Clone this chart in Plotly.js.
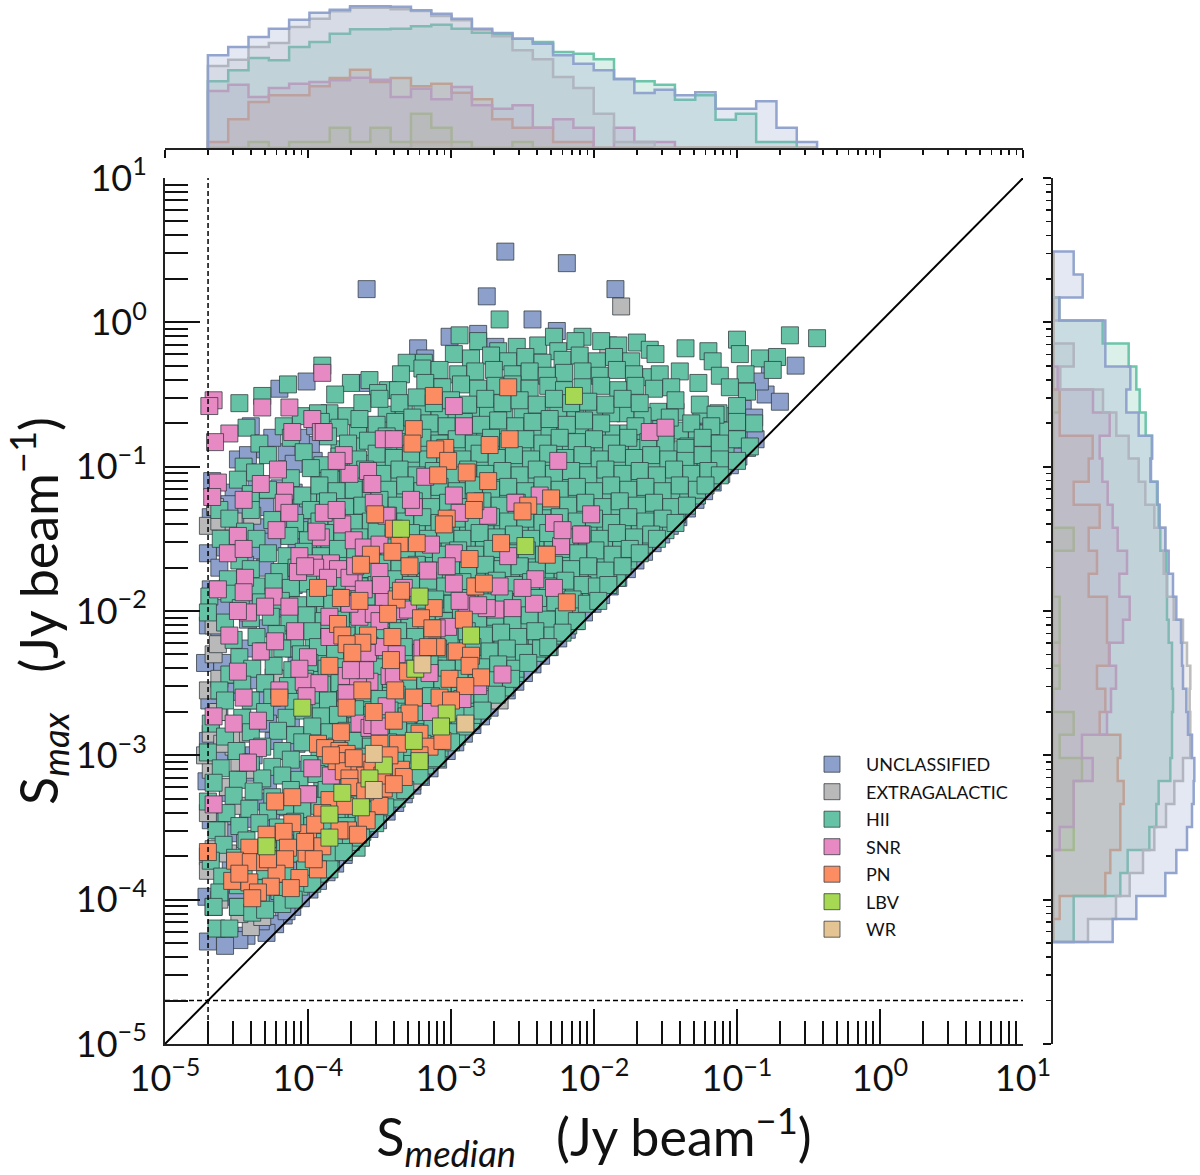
<!DOCTYPE html>
<html><head><meta charset="utf-8">
<script src="https://cdn.plot.ly/plotly-3.0.1.min.js"></script>
<style>html,body{margin:0;padding:0;background:#fff}</style></head>
<body><div id="chart" style="width:1200px;height:1175px"></div>
<script>
const classNames=["UNCLASSIFIED","EXTRAGALACTIC","HII","SNR","PN","LBV","WR"];
const classColors=["#8da0cb","#b9b9b9","#66c2a5","#e78ac3","#fc8d62","#a6d854","#e5c494"];

const unclassifiedPts=[-262,49,-219,41,-359,23,-275,18,-185,23,-243,2,-59,-30,-77,-30,-226,-6,-301,-10,-281,-8,-269,-17,-323,-18,-318,-25,-420,-46,-401,-41,-358,-42,-449,-95,-96,-60,-80,-50,-84,-41,-88,-66,-106,-72,-120,-75,-70,-55,-90,-80,-114,-85,-135,-78,-160,-68,-200,-35,
-87,-81,-93,-87,-99,-93,-105,-99,-111,-105,-117,-111,-123,-117,-129,-123,-135,-129,-141,-135,-147,-141,-153,-147,-159,-153,-165,-159,-171,-165,-177,-171,-183,-177,-189,-183,-195,-189,-201,-195,-207,-201,-213,-207,-219,-213,-225,-219,-231,-225,-237,-231,-243,-237,-249,-243,-255,-249,-261,-255,-267,-261,-273,-267,-279,-273,-285,-279,-291,-285,-297,-291,-303,-297,-309,-303,-315,-309,-321,-315,-327,-321,-333,-327,-339,-333,-345,-339,-351,-345,-357,-351,-363,-357,-369,-363,-375,-369,-381,-375,-387,-381,-393,-387,-399,-393,-405,-399,-411,-405,-417,-411,-423,-417,-429,-423,
-415,-408,-433,-415,-443,-425,-448,-428,-458,-432,-470,-429,-471,-398,-470,-370,-468,-345,-471,-318,-470,-290,-469,-262,-472,-236,-470,-210,-468,-185,-470,-160,-468,-135,-467,-110,-450,-130,-445,-160,-420,-115,-415,-90,-430,-88,-398,-85,-385,-100,-370,-90,
-440,-72,-425,-80,-405,-80,-395,-72,-442,-92,-410,-98,-396,-96,-452,-118,-436,-112,-410,-118,-455,-126,-430,-128,-405,-128,-384,-118,-448,-140,-432,-142,-418,-138,-402,-142,-458,-156,-438,-158,-425,-152,-408,-156,-462,-170,-444,-168,-430,-170,-414,-168,-456,-184,-440,-190,-422,-186,-410,-182,-460,-198,-442,-206,-424,-200,-412,-196,-462,-214,-444,-226,-428,-212,-410,-226,-460,-236,-440,-248,-424,-246,-408,-238,-454,-256,-436,-262,-420,-268,-404,-258,-462,-270,-446,-282,-428,-278,-412,-276,-456,-292,-438,-300,-424,-290,-408,-292,-462,-302,-444,-312,-428,-318,-410,-310,-456,-326,-436,-332,-420,-336,-408,-330,-460,-346,-442,-344,-426,-346,-410,-342,-452,-354,-436,-366,-422,-362,-408,-358,-454,-376,-428,-384,-412,-380,-450,-398,-428,-398];

const extragalacticPts=[-181,11,-190,-16,-466,-405,-470,-380,-462,-400,-440,-419,-466,-365,-470,-340,-468,-310,-472,-300,-468,-285,-463,-270,-452,-294,-440,-310,-470,-255,-466,-230,-463,-223,-462,-247,-418,-247,-405,-240,-466,-210,-418,-210,-439,-134,-470,-141,-462,-138,-452,-138,-350,-130,-320,-107,-330,-94,-320,-124,-465,-128,-420,-370,-402,-376,-390,-368,-360,-345,-327,-318,-266,-262,-367,-361,
-452,-288,-460,-292,-442,-285,-448,-305,-456,-322,-446,-335,-462,-352,-444,-358,-456,-368,-420,-392,-448,-410,-432,-412,-410,-396];

const hiiFillPts=[-405,-65,-385,-63,-345,-64,-320,-62,-298,-65,-275,-62,-250,-64,-225,-62,-200,-64,-178,-63,-155,-62,-125,-64,-105,-65,
-365,-77,-345,-75,-322,-76,-300,-77,-278,-75,-255,-77,-232,-76,-210,-75,-188,-77,-165,-76,-140,-75,-120,-77,-100,-76,
-378,-88,-352,-87,-330,-88,-306,-87,-284,-89,-262,-88,-240,-87,-218,-89,-194,-88,-170,-87,-146,-88,-118,-89,
-390,-99,-362,-98,-338,-99,-314,-98,-290,-100,-266,-98,-242,-99,-218,-98,-194,-100,-170,-99,-146,-98,-122,-99,
-392,-110,-366,-110,-342,-109,-318,-111,-294,-110,-270,-109,-246,-111,-222,-110,-198,-109,-174,-111,-150,-110,-128,-109,
-400,-122,-374,-121,-350,-120,-326,-122,-302,-121,-278,-120,-254,-122,-230,-121,-206,-120,-182,-122,-158,-121,-136,-120,
-392,-132,-368,-133,-344,-131,-320,-133,-296,-132,-272,-131,-248,-133,-224,-132,-200,-131,-176,-133,-152,-132,
-406,-144,-384,-143,-360,-142,-336,-144,-312,-143,-288,-142,-264,-144,-240,-143,-216,-142,-192,-144,-168,-143,-150,-144,
-397,-154,-373,-155,-349,-153,-325,-155,-301,-154,-277,-153,-253,-155,-229,-154,-205,-153,-181,-155,-165,-154,
-402,-165,-384,-165,-360,-164,-336,-166,-312,-165,-288,-164,-264,-166,-240,-165,-216,-164,-192,-166,-176,-165,
-390,-177,-366,-176,-342,-175,-318,-177,-294,-176,-270,-175,-246,-177,-222,-176,-198,-175,-184,-177,
-394,-187,-370,-188,-346,-186,-322,-188,-298,-187,-274,-186,-250,-188,-226,-187,-204,-186,
-400,-199,-376,-198,-352,-197,-328,-199,-304,-198,-280,-197,-256,-199,-232,-198,-212,-197,
-392,-210,-368,-209,-344,-208,-320,-210,-296,-209,-272,-208,-248,-210,-226,-209,
-396,-221,-372,-220,-348,-219,-324,-221,-300,-220,-276,-219,-252,-221,-235,-220,
-390,-232,-366,-231,-342,-230,-318,-232,-294,-231,-270,-230,-246,-232,
-396,-243,-372,-242,-348,-241,-324,-243,-300,-242,-276,-241,-255,-243,
-390,-254,-366,-253,-342,-252,-318,-254,-294,-253,-268,-252,
-396,-265,-372,-264,-348,-263,-324,-265,-300,-264,-280,-263,
-390,-276,-366,-275,-342,-274,-318,-276,-294,-275,
-396,-287,-372,-286,-348,-285,-324,-287,-300,-286,
-390,-298,-366,-297,-342,-296,-316,-298,
-396,-309,-372,-308,-348,-307,-326,-309,
-390,-320,-366,-319,-342,-318,
-396,-331,-372,-330,-346,-329,
-390,-342,-366,-341,-351,-339,
-396,-353,-372,-352,
-390,-364,-372,-362,
-402,-374,-384,-374];

const hiiDensePts=[-393,-63,-373,-65,-333,-62,-308,-65,-286,-62,-263,-65,-238,-62,-213,-65,-188,-63,-166,-65,-143,-62,-113,-63,
-353,-74,-333,-77,-310,-74,-288,-75,-266,-77,-243,-74,-220,-77,-198,-75,-176,-77,-153,-74,-128,-77,-108,-75,
-366,-86,-340,-89,-318,-86,-294,-89,-272,-87,-250,-89,-228,-87,-206,-86,-182,-89,-158,-87,-134,-86,-108,-88,
-378,-97,-350,-100,-326,-97,-302,-100,-278,-97,-254,-100,-230,-97,-206,-100,-182,-97,-158,-100,-134,-97,-110,-100,
-380,-109,-354,-111,-330,-110,-306,-108,-282,-111,-258,-109,-234,-108,-210,-111,-186,-110,-162,-108,-138,-111,-118,-110,
-388,-120,-362,-122,-338,-121,-314,-119,-290,-122,-266,-121,-242,-119,-218,-122,-194,-121,-170,-119,-146,-122,-128,-120,
-380,-131,-356,-133,-332,-132,-308,-130,-284,-133,-260,-132,-236,-130,-212,-133,-188,-132,-164,-130,-142,-133,
-394,-142,-372,-144,-348,-143,-324,-141,-300,-144,-276,-143,-252,-141,-228,-144,-204,-143,-180,-141,-158,-144,
-385,-153,-361,-155,-337,-154,-313,-152,-289,-155,-265,-154,-241,-152,-217,-155,-193,-154,-172,-152,
-390,-164,-372,-166,-348,-165,-324,-163,-300,-166,-276,-165,-252,-163,-228,-166,-204,-165,-180,-163,
-378,-175,-354,-177,-330,-176,-306,-174,-282,-177,-258,-176,-234,-174,-210,-177,-190,-176,
-382,-186,-358,-188,-334,-187,-310,-185,-286,-188,-262,-187,-238,-185,-214,-188,
-388,-197,-364,-199,-340,-198,-316,-196,-292,-199,-268,-198,-244,-196,-222,-199,
-380,-208,-356,-210,-332,-209,-308,-207,-284,-210,-260,-209,-236,-207,-218,-210,
-384,-219,-360,-221,-336,-220,-312,-218,-288,-221,-264,-220,-240,-218,
-378,-230,-354,-232,-330,-231,-306,-229,-282,-232,-258,-231,-240,-229,
-384,-241,-360,-243,-336,-242,-312,-240,-288,-243,-264,-242,
-378,-252,-354,-254,-330,-253,-306,-251,-282,-254,-262,-253,
-384,-263,-360,-265,-336,-264,-312,-262,-288,-265,
-378,-274,-354,-276,-330,-275,-306,-273,-286,-276,
-384,-285,-360,-287,-336,-286,-312,-284,-296,-287,
-378,-296,-354,-298,-330,-297,
-384,-307,-360,-309,-336,-308,-318,-307,
-378,-318,-354,-320,-334,-319,
-384,-329,-360,-331,-338,-330,
-378,-340,-358,-342,
-384,-351,-362,-353,
-380,-362,-366,-364];

const hiiPts=[-266,2,-294,-9,-281,-13,-254,-17,-239,-16,-228,-10,-208,-10,-267,-20,-225,-20,-213,-13,-195,-13,-183,-16,-170,-14,-161,-19,-136,-18,-63,-9,-44,-11,-100,-12,-120,-20,
-298,-22,-286,-25,-272,-23,-260,-27,-248,-24,-236,-28,-222,-26,-210,-23,-198,-27,-186,-24,-174,-27,-157,-22,-117,-27,-98,-22,-84,-25,-72,-24,-319,-28,-331,-28,
-390,-30,-335,-36,-320,-32,-308,-33,-295,-36,-283,-34,-270,-33,-257,-36,-245,-34,-233,-37,-221,-35,-208,-34,-196,-37,-184,-33,-172,-36,-160,-38,-154,-36,-140,-34,-112,-37,-94,-36,-75,-33,
-414,-43,-357,-40,-344,-47,-337,-47,-318,-42,-306,-45,-293,-43,-281,-46,-269,-44,-257,-43,-245,-46,-232,-44,-221,-47,-208,-45,-195,-44,-183,-47,-171,-44,-158,-46,-146,-45,-127,-42,-105,-45,-93,-48,-370,-42,-351,-49,
-448,-56,-432,-51,-381,-50,-362,-56,-350,-53,-336,-56,-324,-52,-312,-56,-300,-54,-288,-57,-276,-53,-264,-56,-252,-54,-240,-57,-228,-53,-216,-56,-204,-55,-192,-57,-180,-53,-168,-56,-143,-54,-126,-57,-115,-64,-100,-58,
-443,-73,-417,-72,-391,-69,-378,-73,-364,-67,-352,-71,-339,-69,-327,-66,-315,-70,-303,-72,-291,-69,-279,-71,-267,-68,-255,-72,-243,-69,-231,-67,-219,-71,-207,-68,-195,-70,-171,-72,-147,-66,-132,-70,-118,-72,-100,-69,-88,-70,-150,-78,
-434,-84,-412,-80,-386,-79,-372,-84,-358,-82,-345,-79,-332,-83,-320,-80,-308,-84,-296,-81,-284,-84,-272,-80,-260,-83,-248,-81,-236,-84,-224,-80,-212,-83,-200,-81,-188,-84,-176,-80,-162,-83,-150,-84,-136,-87,-124,-80,-112,-84,-100,-81,-91,-86,
-445,-100,-428,-92,-403,-90,-378,-93,-365,-95,-352,-91,-340,-94,-328,-91,-316,-95,-304,-92,-292,-95,-280,-91,-268,-94,-256,-92,-244,-95,-232,-91,-220,-94,-208,-92,-196,-95,-184,-91,-172,-94,-160,-92,-148,-95,-136,-96,-124,-92,-112,-95,-100,-96,
-449,-109,-437,-104,-412,-108,-398,-101,-385,-108,-372,-106,-360,-102,-348,-105,-336,-102,-324,-106,-312,-103,-300,-106,-288,-102,-276,-105,-264,-103,-252,-106,-240,-102,-228,-105,-216,-103,-204,-106,-192,-102,-180,-105,-168,-103,-156,-106,-144,-102,-132,-105,-120,-103,-112,-106,
-462,-130,-440,-119,-428,-116,-404,-120,-392,-113,-380,-117,-368,-116,-356,-112,-344,-116,-332,-113,-320,-117,-308,-114,-296,-117,-284,-113,-272,-116,-260,-114,-248,-117,-236,-113,-224,-116,-212,-114,-200,-117,-188,-113,-176,-116,-164,-114,-152,-117,-140,-113,-128,-116,-122,-113,
-455,-136,-440,-130,-417,-127,-398,-130,-386,-124,-374,-128,-362,-127,-350,-123,-338,-127,-326,-124,-314,-128,-302,-125,-290,-128,-278,-124,-266,-127,-254,-125,-242,-128,-230,-124,-218,-127,-206,-125,-194,-128,-182,-124,-170,-127,-158,-125,-146,-128,-135,-127,
-444,-145,-425,-137,-409,-139,-392,-138,-380,-135,-368,-139,-356,-138,-344,-134,-332,-138,-320,-135,-308,-139,-296,-136,-284,-139,-272,-135,-260,-138,-248,-136,-236,-139,-224,-135,-212,-138,-200,-136,-188,-139,-176,-135,-164,-138,-152,-136,-143,-139,
-461,-150,-436,-150,-413,-148,-400,-151,-388,-146,-376,-150,-364,-149,-352,-145,-340,-149,-328,-146,-316,-150,-304,-147,-292,-150,-280,-146,-268,-149,-256,-147,-244,-150,-232,-146,-220,-149,-208,-147,-196,-150,-184,-146,-172,-149,-160,-147,-156,-150,
-448,-165,-428,-160,-415,-162,-403,-159,-391,-162,-379,-157,-367,-161,-355,-160,-343,-156,-331,-160,-319,-157,-307,-161,-295,-158,-283,-161,-271,-157,-259,-160,-247,-158,-235,-161,-223,-157,-211,-160,-199,-158,-187,-161,-175,-157,-168,-160,
-456,-178,-440,-171,-420,-173,-408,-170,-396,-173,-384,-168,-372,-172,-360,-171,-348,-167,-336,-171,-324,-168,-312,-172,-300,-169,-288,-172,-276,-168,-264,-171,-252,-169,-240,-172,-228,-168,-216,-171,-204,-169,-192,-172,-180,-169,
-469,-190,-455,-188,-436,-183,-424,-180,-412,-184,-400,-181,-388,-184,-376,-179,-364,-183,-352,-182,-340,-178,-328,-182,-316,-179,-304,-183,-292,-180,-280,-183,-268,-179,-256,-182,-244,-180,-232,-183,-220,-179,-208,-182,-198,-183,-190,-182,
-470,-201,-447,-198,-433,-194,-419,-193,-407,-196,-395,-191,-383,-195,-371,-194,-359,-190,-347,-194,-335,-191,-323,-195,-311,-192,-299,-195,-287,-191,-275,-194,-263,-192,-251,-195,-239,-191,-227,-194,-215,-192,-205,-195,-197,-193,
-458,-208,-440,-205,-426,-204,-413,-208,-401,-203,-389,-207,-377,-206,-365,-202,-353,-206,-341,-203,-329,-207,-317,-204,-305,-207,-293,-203,-281,-206,-269,-204,-257,-207,-245,-203,-233,-206,-221,-204,-212,-207,
-452,-220,-436,-218,-422,-216,-409,-219,-397,-214,-385,-218,-373,-217,-361,-213,-349,-217,-337,-214,-325,-218,-313,-215,-301,-218,-289,-214,-277,-217,-265,-215,-253,-218,-241,-214,-229,-217,-222,-215,
-448,-232,-431,-228,-418,-226,-405,-230,-393,-225,-381,-229,-369,-228,-357,-224,-345,-228,-333,-225,-321,-229,-309,-226,-297,-229,-285,-225,-273,-228,-261,-226,-249,-229,-237,-226,-232,-225,
-455,-244,-439,-240,-424,-238,-411,-241,-399,-236,-387,-240,-375,-239,-363,-235,-351,-239,-339,-236,-327,-240,-315,-237,-303,-240,-291,-236,-279,-239,-267,-237,-255,-240,-246,-236,
-462,-255,-446,-251,-430,-250,-414,-252,-402,-247,-390,-251,-378,-250,-366,-246,-354,-250,-342,-247,-330,-251,-318,-248,-306,-251,-294,-247,-282,-250,-270,-248,-258,-247,
-458,-262,-440,-262,-425,-260,-410,-263,-398,-258,-386,-262,-374,-261,-362,-257,-350,-261,-338,-258,-326,-262,-314,-259,-302,-262,-290,-258,-278,-261,-268,-258,
-468,-278,-446,-274,-430,-270,-415,-274,-403,-269,-391,-273,-379,-272,-367,-268,-355,-272,-343,-269,-331,-273,-319,-270,-307,-273,-295,-269,-285,-272,-278,-269,
-458,-287,-440,-284,-421,-283,-409,-286,-397,-280,-385,-284,-373,-283,-361,-279,-349,-283,-337,-280,-325,-284,-313,-281,-301,-284,-290,-280,
-470,-298,-450,-297,-432,-294,-418,-297,-404,-291,-392,-295,-380,-294,-368,-290,-356,-294,-344,-291,-332,-295,-320,-292,-308,-295,-300,-291,
-461,-309,-440,-305,-425,-308,-412,-303,-399,-306,-387,-302,-375,-305,-363,-301,-351,-305,-339,-302,-327,-306,-315,-303,-310,-302,
-466,-319,-449,-317,-432,-316,-418,-314,-406,-317,-394,-313,-382,-316,-370,-312,-358,-316,-346,-313,-334,-317,-322,-314,
-470,-332,-452,-328,-438,-325,-425,-329,-412,-324,-399,-327,-387,-324,-375,-327,-363,-323,-351,-327,-339,-325,-332,-324,
-457,-340,-441,-337,-428,-339,-416,-335,-404,-338,-392,-335,-380,-338,-368,-334,-356,-338,-346,-336,
-464,-352,-448,-349,-434,-347,-421,-350,-409,-346,-397,-349,-385,-346,-373,-349,-361,-345,-353,-347,
-459,-362,-443,-359,-428,-358,-416,-361,-404,-357,-392,-360,-380,-357,-370,-360,-363,-357,
-468,-373,-451,-371,-436,-369,-421,-372,-408,-368,-396,-371,-384,-368,-375,-367,
-460,-384,-445,-381,-430,-380,-416,-383,-402,-379,-392,-382,-385,-379,
-462,-395,-449,-390,-434,-392,-420,-394,-406,-391,-397,-389,
-466,-405,-449,-405,-433,-401,-418,-403,-410,-400,
-464,-420,-455,-420,-449,-405,-439,-409,-430,-407];

const snrPts=[-466,-54,-469,-58,-390,-35,-432,-59,-413,-59,-397,-67,-455,-77,-411,-76,-391,-76,-465,-83,-347,-81,-298,-58,-291,-72,-375,-92,-371,-105,-358,-103,-355,-112,-421,-102,-463,-111,-433,-112,-416,-117,-467,-121,-445,-123,-417,-125,-413,-132,-389,-132,-376,-140,-422,-144,-449,-148,-391,-149,-368,-151,-326,-128,-298,-120,-314,-154,-456,-160,-445,-157,-396,-167,-225,-96,-255,-125,-274,-134,-228,-139,-209,-147,-202,-133,-223,-155,-260,-162,-161,-76,-150,-73,-222,-144,-238,-120,
-340,-81,-389,-76,-380,-96,-318,-107,-328,-123,-354,-125,-380,-130,-345,-134,-394,-145,-406,-162,-384,-167,-361,-156,-350,-154,-294,-132,-298,-160,
-463,-185,-444,-177,-445,-187,-442,-201,-449,-200,-455,-217,-424,-190,-409,-214,-433,-228,-449,-242,-400,-232,-403,-249,-392,-250,-420,-255,-445,-260,-466,-273,-435,-276,-452,-278,-435,-295,-442,-305,-397,-309,-400,-327,-466,-334,-266,-183,-241,-178,-257,-198,-242,-195,-269,-199,-289,-195,-298,-181,-316,-172,-350,-173,-379,-171,-395,-170,-407,-173,-368,-180,-347,-193,-364,-204,-264,-244,-302,-211,-343,-245,-357,-249,-373,-257,-364,-278,-357,-281,-314,-270,-384,-314,-315,-243,-358,-229,-345,-266,-320,-226,-228,-184,-310,-212,
-386,-177,-371,-177,-361,-185,-349,-182,-333,-184,-354,-202,-336,-200,-350,-207,-330,-199,-430,-197,-413,-197,-385,-204,-371,-195,-423,-221,-385,-218,-347,-225,-338,-230,-406,-240,-373,-245,-365,-247,-340,-245,-360,-241,-370,-241,-401,-259,-373,-257,-275,-198,-250,-184,-281,-196,-294,-193,-303,-169,-367,-169,-402,-169,-355,-279,-350,-280,-281,-252,-292,-261];

const pnPts=[-312,-51,-260,-45,-326,-74,-327,-84,-304,-87,-311,-88,-302,-96,-309,-106,-289,-104,-273,-85,-259,-81,-274,-110,-230,-122,-246,-127,-250,-131,-283,-124,-284,-130,-353,-133,-303,-136,-305,-140,-265,-153,-233,-161,-287,-164,-324,-153,-336,-153,-341,-159,-356,-161,-329,-169,-363,-168,-340,-143,
-393,-184,-377,-191,-364,-193,-219,-194,-283,-183,-277,-181,-338,-192,-335,-186,-344,-202,-312,-198,-321,-205,-291,-206,-379,-209,-376,-217,-358,-217,-313,-212,-341,-218,-362,-222,-373,-223,-369,-229,-310,-225,-316,-225,-296,-228,-286,-231,-342,-234,-385,-238,-287,-238,-330,-242,-279,-246,-301,-247,-290,-252,-420,-260,-362,-255,-339,-255,-326,-260,-308,-260,-300,-262,-373,-267,-354,-270,-329,-271,-340,-276,-377,-284,-322,-285,-393,-292,-388,-295,-378,-297,-373,-299,-350,-292,-337,-292,-315,-294,-306,-290,-380,-304,-375,-311,-364,-305,-335,-310,-333,-315,-360,-314,-371,-316,-347,-323,-371,-322,-385,-331,-411,-329,-423,-332,-350,-335,-374,-335,-359,-345,-372,-352,-400,-354,-411,-347,-417,-353,-429,-355,-414,-364,-401,-368,-390,-363,-441,-364,-451,-373,-440,-374,-430,-374,-416,-372,-393,-379,-406,-385,-422,-382,-453,-387,-441,-388,-426,-391,-435,-395,-439,-399,-470,-367,
-384,-300,-368,-302,-343,-300,-322,-300,-355,-310,-348,-314,-340,-320,-360,-325,-390,-340,-378,-352,-395,-348,-365,-355,-402,-360,-428,-372,-448,-382,-412,-392,-396,-372];

const lbvPts=[-214,-51,-335,-143,-248,-155,-322,-190,-286,-217,-325,-240,-404,-267,-303,-271,-307,-280,-326,-290,-322,-304,-347,-307,-357,-316,-376,-326,-363,-336,-385,-341,-385,-357,-429,-363];

const wrPts=[-320,-237,-290,-278,-354,-299,-354,-324];

// Shared bin edges (log10 S) and bar heights for the marginal histograms.
const topEdges=[-4.70,-4.558,-4.416,-4.274,-4.132,-3.99,-3.848,-3.706,-3.564,-3.422,-3.28,-3.138,-2.996,-2.854,-2.712,-2.57,-2.428,-2.286,-2.144,-2.002,-1.86,-1.718,-1.576,-1.434,-1.292,-1.15,-1.008,-0.866,-0.724,-0.582,-0.44];
const topUnclassified=[278,303,333,358,385,406,415,426,425,424,413,403,388,358,345,328,313,278,253,233,206,165,175,158,167,118,118,140,61,18];
const topExtragalactic=[246,265,303,315,363,388,410,421,421,416,411,396,383,355,335,293,266,213,180,103,18,18,0,0,0,0,0,0,0,0];
const topHII=[200,233,270,263,303,318,343,356,356,358,365,370,358,346,343,328,318,288,283,266,208,200,190,145,158,85,103,18,18,0];
const topSNR=[171,190,153,180,193,198,203,211,205,153,178,146,183,128,118,128,61,86,61,0,61,18,18,0,0,0,0,0,0,0];
const topPN=[18,86,138,158,158,185,210,235,198,210,185,193,166,146,86,61,61,18,18,0,0,0,0,0,0,0,0,0,0,0];
const topLBV=[0,0,18,0,18,18,61,18,61,18,103,61,18,0,0,18,0,0,0,0,0,0,0,0,0,0,0,0,0,0];
const topWR=[0,0,0,0,0,0,0,0,0,0,18,18,0,0,0,0,0,0,0,0,0,0,0,0,0,0,0,0,0,0];

const sideEdges=[-4.293,-4.134,-3.975,-3.815,-3.656,-3.496,-3.337,-3.177,-3.018,-2.858,-2.699,-2.539,-2.380,-2.220,-2.061,-1.901,-1.742,-1.582,-1.423,-1.263,-1.104,-0.944,-0.785,-0.625,-0.466,-0.306,-0.147,0.013,0.172,0.332,0.491];
const sideUnclassified=[179,250,337,370,402,417,422,424,417,405,400,390,387,384,370,360,347,337,320,314,294,297,257,220,232,157,157,19,89,62];
const sideExtragalactic=[105,189,230,270,304,339,364,390,412,412,410,412,402,390,362,342,332,337,304,277,257,227,190,150,22,62,0,19,0,0];
const sideHII=[62,62,202,224,289,310,317,352,357,357,360,357,357,347,342,342,340,322,317,312,292,297,278,260,250,227,149,19,0,0];
const sideSNR=[0,0,0,0,20,62,62,119,87,162,174,189,170,210,230,199,222,194,179,164,148,140,170,120,14,0,0,0,0,0];
const sidePN=[0,20,157,172,202,202,212,194,202,140,157,132,168,162,162,107,132,107,140,62,107,119,20,20,0,0,0,0,0,0];
const sideLBV=[0,0,0,0,62,62,62,87,20,62,0,20,0,20,20,0,0,62,0,0,0,0,0,20,0,0,0,0,0,0];
const sideWR=[0,0,0,0,0,0,0,0,0,0,0,0,20,0,0,0,0,0,0,0,0,0,0,0,0,0,0,0,0,0];

const fluxLimit=2e-5;
const axisEnds=[1e-5,10];
const logTicks=[1e-5,1e-4,1e-3,1e-2,1e-1,1,10];
const logTickText=["10<sup>−5</sup>","10<sup>−4</sup>","10<sup>−3</sup>","10<sup>−2</sup>","10<sup>−1</sup>","10<sup>0</sup>","10<sup>1</sup>"];

const pointLists=[unclassifiedPts,extragalacticPts,hiiFillPts.concat(hiiDensePts,hiiPts),snrPts,pnPts,lbvPts,wrPts];
const topHists=[topUnclassified,topExtragalactic,topHII,topSNR,topPN,topLBV,topWR];
const sideHists=[sideUnclassified,sideExtragalactic,sideHII,sideSNR,sidePN,sideLBV,sideWR];

function rgba(hex,a){const n=parseInt(hex.slice(1),16);return `rgba(${n>>16},${(n>>8)&255},${n&255},${a})`;}
function stepPath(edges,h){
  const pos=[edges[0]],val=[0];
  h.forEach((v,i)=>{pos.push(edges[i]);val.push(v);});
  pos.push(edges[edges.length-1]);val.push(h[h.length-1]);
  pos.push(edges[edges.length-1]);val.push(0);
  return {pos:pos.map(p=>Math.pow(10,p)),val};
}
const traces=[];
// marginal histograms: rarest class first so the largest classes lie on top
[6,5,4,3,2,1,0].forEach(i=>{
  const t=stepPath(topEdges,topHists[i]);
  traces.push({type:'scatter',mode:'lines',x:t.pos,y:t.val,xaxis:'x2',yaxis:'y2',showlegend:false,hoverinfo:'skip',
    line:{shape:'hv',width:2.5,color:rgba(classColors[i],0.95)},fill:'tozeroy',fillcolor:rgba(classColors[i],0.24)});
  const s=stepPath(sideEdges,sideHists[i]);
  traces.push({type:'scatter',mode:'lines',x:s.val,y:s.pos,xaxis:'x3',yaxis:'y3',showlegend:false,hoverinfo:'skip',
    line:{shape:'vh',width:2.5,color:rgba(classColors[i],0.95)},fill:'tozerox',fillcolor:rgba(classColors[i],0.24)});
});
// main scatter
classNames.forEach((name,i)=>{
  const p=pointLists[i],xs=[],ys=[];
  for(let k=0;k<p.length;k+=2){xs.push(Math.pow(10,p[k]/100));ys.push(Math.pow(10,p[k+1]/100));}
  traces.push({type:'scatter',mode:'markers',name,legendgroup:name,x:xs,y:ys,xaxis:'x',yaxis:'y',
    marker:{symbol:'square',size:17,color:classColors[i],line:{width:1,color:'rgba(45,55,60,0.75)'}}});
});
traces.push({type:'scatter',mode:'lines',x:axisEnds,y:axisEnds,showlegend:false,hoverinfo:'skip',line:{color:'#000',width:2}});
traces.push({type:'scatter',mode:'lines',x:[fluxLimit,fluxLimit],y:axisEnds,showlegend:false,hoverinfo:'skip',line:{color:'#000',width:1.5,dash:'5px,3px'}});
traces.push({type:'scatter',mode:'lines',x:axisEnds,y:[fluxLimit,fluxLimit],showlegend:false,hoverinfo:'skip',line:{color:'#000',width:1.5,dash:'5px,3px'}});

const W=1200,H=1175;
const font='Lato, "Open Sans", sans-serif';
const xDom=[165/W,1023/W], yDom=[(H-1044)/H,(H-178)/H];
function mainAxis(extra){return Object.assign({type:'log',range:[-5,1],tickmode:'array',tickvals:logTicks,ticktext:logTickText,ticks:'inside',ticklen:35,tickwidth:2,tickcolor:'#111',
  showline:true,linewidth:2,linecolor:'#222',showgrid:false,zeroline:false,tickfont:{family:font,size:36,color:'#111'},
  minor:{dtick:'D1',ticks:'inside',ticklen:23,tickwidth:2,tickcolor:'#111',showgrid:false}},extra);}
function margAxis(extra){return Object.assign({type:'log',range:[-5,1],tickmode:'array',tickvals:logTicks,ticks:'outside',ticklen:8,tickwidth:2,tickcolor:'#111',
  showline:true,linewidth:2,linecolor:'#222',showgrid:false,zeroline:false,showticklabels:false,
  minor:{dtick:'D1',ticks:'outside',ticklen:5,tickwidth:1.5,tickcolor:'#111',showgrid:false}},extra);}
const layout={width:W,height:H,margin:{l:0,r:0,t:0,b:0},paper_bgcolor:'#fff',plot_bgcolor:'rgba(0,0,0,0)',showlegend:true,
  legend:{x:798/W,y:1-746/H,xanchor:'left',yanchor:'top',bgcolor:'rgba(0,0,0,0)',font:{family:font,size:18,color:'#111'},itemwidth:58,traceorder:'grouped',tracegroupgap:1.1},
  xaxis:mainAxis({domain:xDom,anchor:'y',ticklabelstandoff:2,
    title:{text:'S<sub><i>median</i></sub>   (Jy beam<sup>−1</sup>)',font:{family:font,size:52,color:'#111'},standoff:14}}),
  yaxis:mainAxis({domain:yDom,anchor:'x',ticklabelstandoff:9,
    title:{text:'S<sub><i>max</i></sub>   (Jy beam<sup>−1</sup>)',font:{family:font,size:52,color:'#111'},standoff:20}}),
  xaxis2:margAxis({domain:xDom,anchor:'y2'}),
  yaxis2:{domain:[(H-148)/H,(H-5)/H],anchor:'x2',range:[0,429],visible:false,fixedrange:true},
  xaxis3:{domain:[1053/W,1],anchor:'y3',range:[0,441],visible:false},
  yaxis3:margAxis({domain:yDom,anchor:'x3'})
};
Plotly.newPlot('chart',traces,layout,{displayModeBar:false,staticPlot:true});
</script></body></html>
